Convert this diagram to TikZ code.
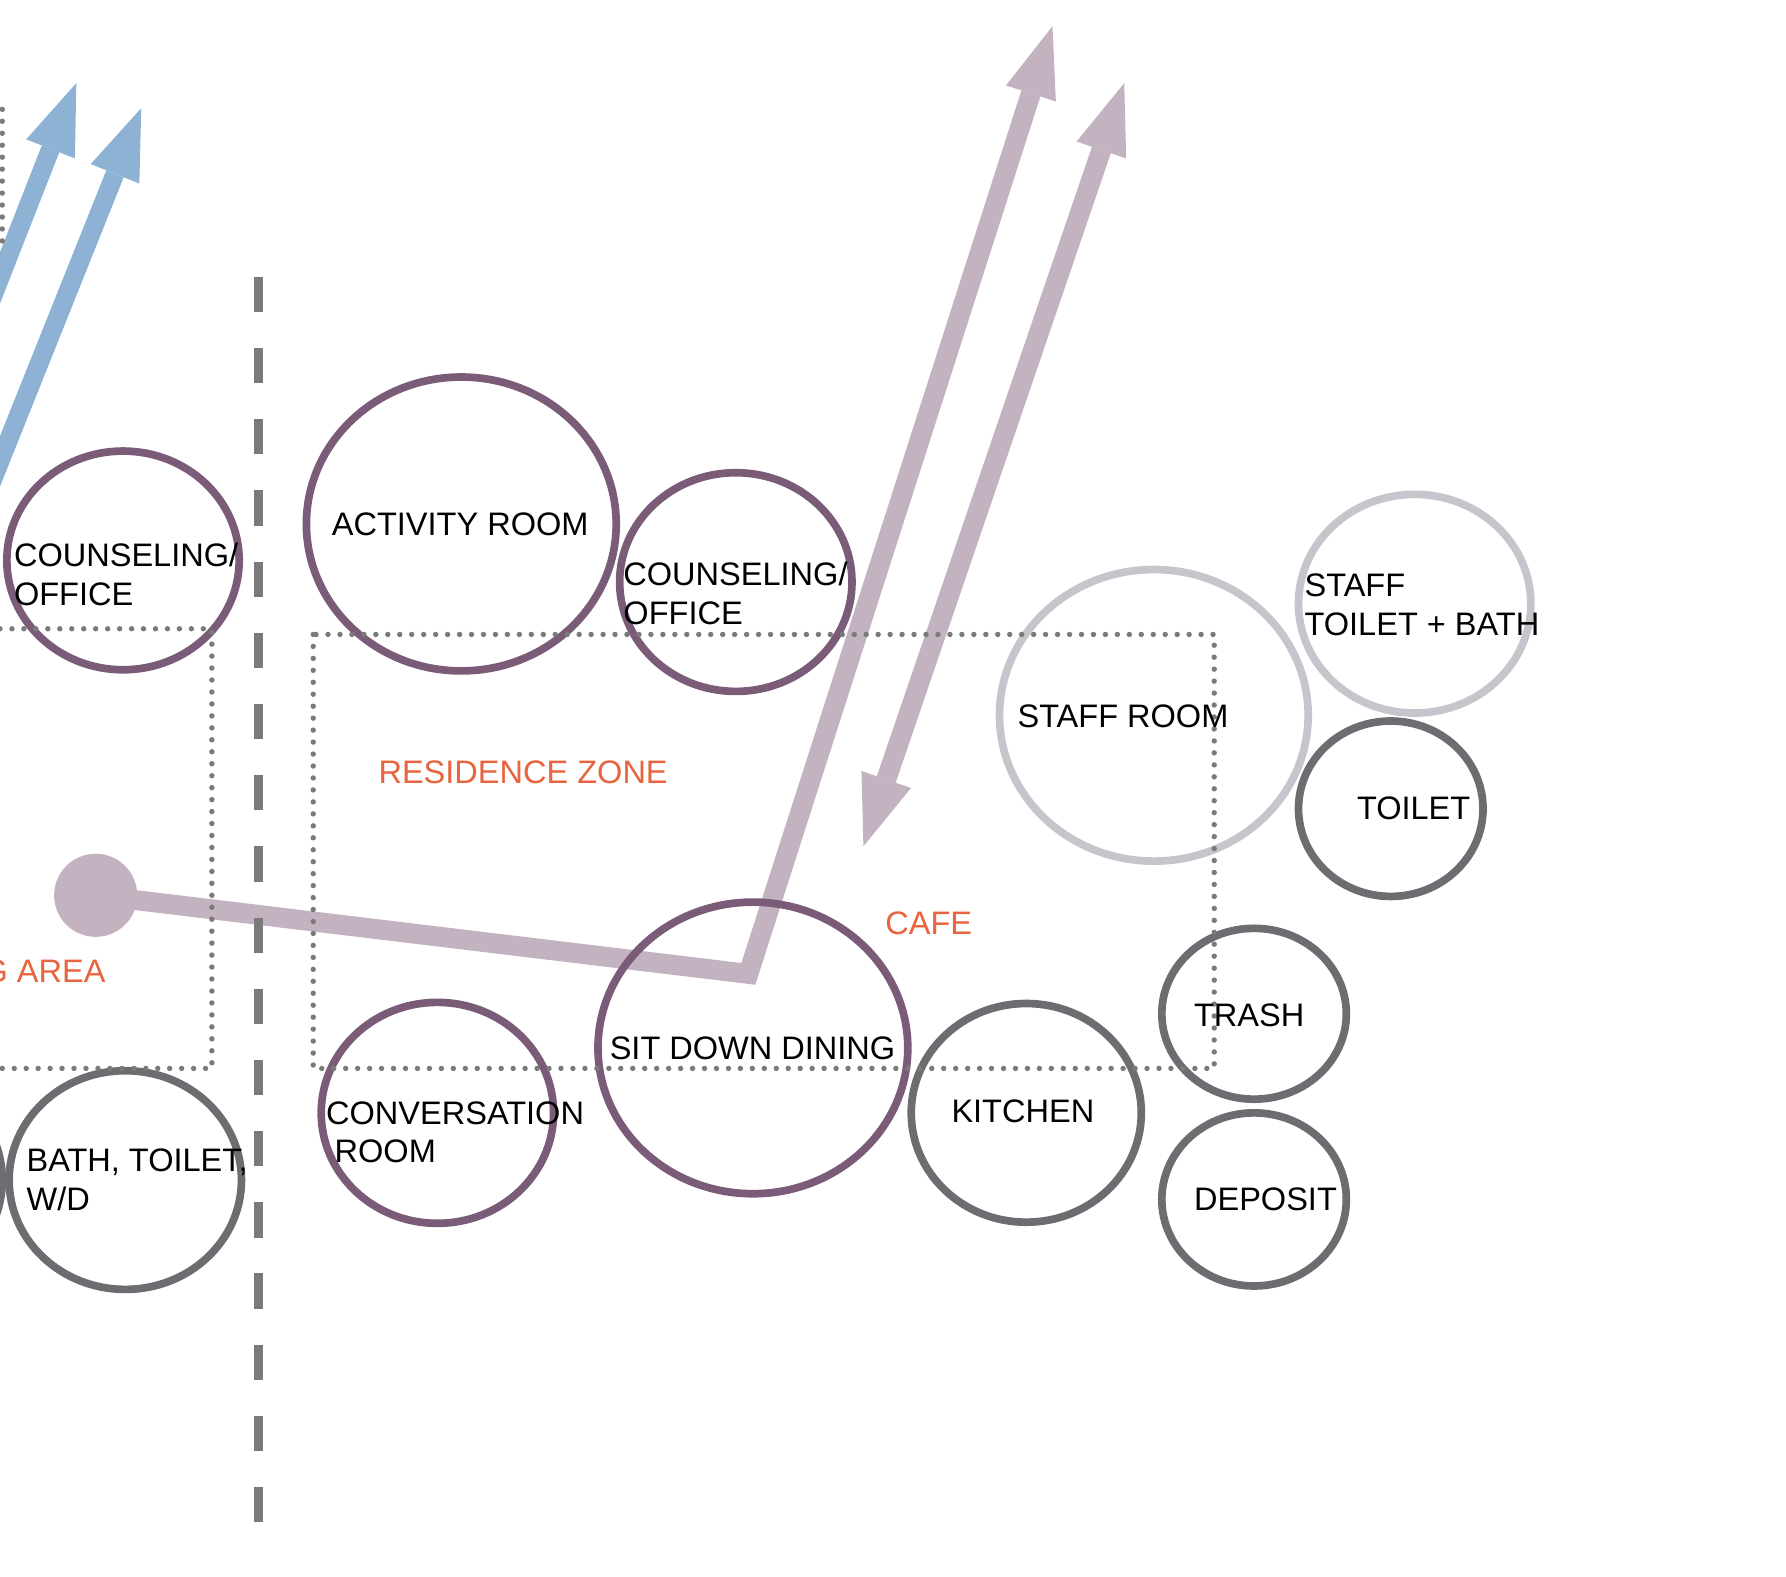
\documentclass[tikz,border=0pt]{standalone}
\usepackage{fontspec}
\setmainfont{Liberation Sans}
\usetikzlibrary{arrows.meta,shapes.geometric}
\definecolor{plum}{RGB}{122,92,120}
\definecolor{slate}{RGB}{108,108,113}
\definecolor{mist}{RGB}{198,197,204}
\definecolor{mauve}{RGB}{195,178,191}
\definecolor{sky}{RGB}{141,178,212}
\definecolor{zone}{RGB}{232,100,62}
\definecolor{rulegray}{RGB}{122,122,122}

\begin{document}
\begin{tikzpicture}[x=0.2mm,y=-0.2mm,
  room/.style={draw=#1,ellipse,line width=1.35mm,inner sep=0pt},
  txt/.style={anchor=west,inner sep=0pt,align=left,font=\fontsize{16.25}{19.35}\selectfont},
  ztxt/.style={txt,text=zone},
  dots/.style={draw=rulegray,line width=0.95mm,line cap=round,dash pattern=on 0pt off 2.1mm},
  flow/.style={draw=#1,line width=3.5mm},
  head/.style={-{Triangle[length=12.4mm,width=9.2mm,line width=0pt]}}]
\useasboundingbox (0,0) rectangle (1568,1384);
% flows
\coordinate (bA) at (-22,300);\coordinate (tA) at (67,73);
\coordinate (bB) at (-22,460);\coordinate (tB) at (124,95);
\draw[flow=sky,line width=3.3mm,head] (bA)--(tA);\draw[flow=sky,line width=3.3mm,head] (bB)--(tB);
\node[circle,fill=mauve,inner sep=0pt,minimum size=14.6mm] (hub) at (84,786){};
\coordinate (bend) at (657,855);\coordinate (tC) at (924,23);
\coordinate (tD) at (987,73);\coordinate (tE) at (758,743);
\draw[flow=mauve,head] (hub.center)--(bend)--(tC);
\draw[flow=mauve,{Triangle[length=12.4mm,width=9.2mm,line width=0pt]}-{Triangle[length=12.4mm,width=9.2mm,line width=0pt]}] (tE)--(tD);
% rooms
\foreach \n/\x/\y/\w/\h/\c in {cnsA/108/492/204/192/plum,act/405/460/272/258/plum,cnsB/646/511/204/192/plum,
  dine/661/920/272/256/plum,conv/384/977/204/194/plum,stfR/1013/628/271/256/mist,stfT/1242/530/204/192/mist,
  wc/1221/710/162/154/slate,trash/1101/890/162/150/slate,dep/1101/1053/162/152/slate,kit/901/977/202/192/slate,
  bath/110/1036/204/192/slate,edge/-100/1036/204/192/slate}
  {\node[room=\c,minimum width=\w*0.2mm,minimum height=\h*0.2mm] (\n) at (\x,\y){};}
% zones
\draw[dots] (2,96)--(2,214);
\draw[dots] (0,552)--(186,552)--(186,938)--(0,938);
\draw[dots] (275,557) rectangle (1066,938);
\draw[draw=rulegray,line width=1.5mm,dash pattern=on 6.2mm off 6.3mm] (227,243)--(227,1340);
% labels
\node[txt] (cnsAt) at (12,504){COUNSELING/\\OFFICE};\node[txt] (actt) at (291,460){ACTIVITY ROOM};
\node[txt] (cnsBt) at (547,521){COUNSELING/\\OFFICE};\node[txt] (stfRt) at (893,629){STAFF ROOM};
\node[txt] (stfTt) at (1145,531){STAFF\\TOILET + BATH};\node[txt] (wct) at (1191,710){TOILET};
\node[txt] (trasht) at (1048,891){TRASH};\node[txt] (dept) at (1048,1053){DEPOSIT};
\node[txt] (kitt) at (835,976){KITCHEN};\node[txt] (dinet) at (535,920){SIT DOWN DINING};
\node[txt] (convt) at (286,994){CONVERSATION\\\hspace*{1.5mm}ROOM};\node[txt] (batht) at (23,1036){BATH, TOILET,\\W/D};
\node[ztxt] (res) at (332,678){RESIDENCE ZONE};\node[ztxt] (cafe) at (777,811){CAFE};
\node[ztxt,anchor=east] (area) at (93,853){G AREA};
\end{tikzpicture}
\end{document}
